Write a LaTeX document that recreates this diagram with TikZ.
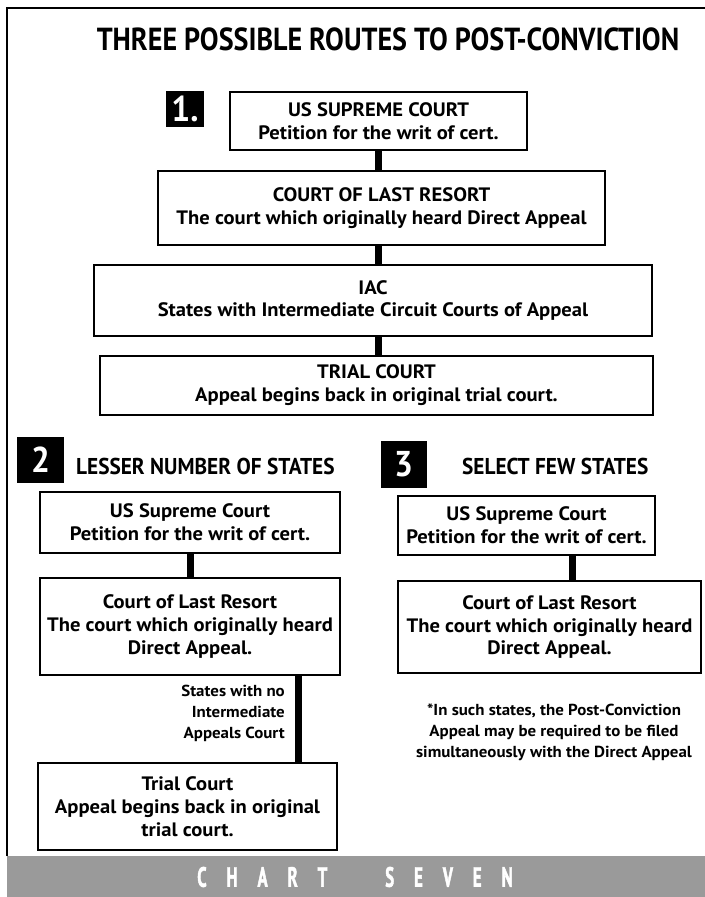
\documentclass[tikz,border=0pt]{standalone}
\usepackage{fontspec}
\setmainfont{PT Sans}[FakeStretch=1.06]
\newfontfamily\titlefont{PT Sans}[FakeStretch=0.88]
\newfontfamily\headfont{PT Sans}[FakeStretch=0.93]
\newfontfamily\chartfont{PT Sans}[FakeStretch=0.6, FakeBold=1.6]
\begin{document}
\begin{tikzpicture}[x=1bp,y=-1bp,
  box/.style={draw, line width=1.6bp, align=center, inner sep=0pt,
    font=\bfseries\fontsize{19.5}{23}\selectfont},
  conn/.style={line width=7bp},
  numbox/.style={fill=black, text=white, inner sep=0pt,
    font=\headfont\bfseries\fontsize{36}{36}\selectfont},
  head/.style={anchor=base west, inner sep=0pt, font=\headfont\bfseries\fontsize{23}{26}\selectfont},
  small/.style={inner sep=0pt, font=\bfseries\fontsize{16}{21}\selectfont},
]
\useasboundingbox (0,0) rectangle (705,897);
% frame
\draw[line width=2bp] (7,856) -- (7,8) -- (705,8);
\fill[fill={rgb,255:red,154;green,154;blue,154}] (7,856) rectangle (705,897);
\node[text=white, font=\chartfont\bfseries\fontsize{28}{28}\selectfont, inner sep=0pt] (chart) at (355,877)
  {C\hspace{20bp}H\hspace{20bp}A\hspace{20bp}R\hspace{20bp}T\hspace{58bp}S\hspace{20bp}E\hspace{20bp}V\hspace{20bp}E\hspace{20bp}N};

% title
\node[inner sep=0pt, font=\titlefont\bfseries\fontsize{32}{36}\selectfont] (title) at (388,39)
  {THREE POSSIBLE ROUTES TO POST-CONVICTION};

% route 1
\node[numbox, minimum width=38bp, minimum height=36bp] (n1) at (185,109) {1.};
\node[box, minimum width=297bp, minimum height=58bp] (a1) at (378.5,121)
  {US SUPREME COURT\\Petition for the writ of cert.};
\node[box, minimum width=447bp, minimum height=74bp] (a2) at (381.5,208)
  {COURT OF LAST RESORT\\The court which originally heard Direct Appeal};
\node[box, minimum width=558bp, minimum height=71bp] (a3) at (373,300.5)
  {IAC\\States with Intermediate Circuit Courts of Appeal};
\node[box, minimum width=553bp, minimum height=59bp] (a4) at (376.5,385.5)
  {TRIAL COURT\\Appeal begins back in original trial court.};
\draw[conn] (a1.south) -- (a1.south |- a2.north);
\draw[conn] (a1.south |- a2.south) -- (a1.south |- a3.north);
\draw[conn] (a1.south |- a3.south) -- (a1.south |- a4.north);

% route 2
\node[numbox, minimum width=47bp, minimum height=46bp] (n2) at (40.5,460) {2};
\node[head] (h2) at (76,474) {LESSER NUMBER OF STATES};
\node[box, minimum width=300bp, minimum height=61bp] (b1) at (190,522.5)
  {US Supreme Court\\Petition for the writ of cert.};
\node[box, minimum width=300bp, minimum height=97bp] (b2) at (190,626.5)
  {Court of Last Resort\\The court which originally heard\\Direct Appeal.};
\node[box, minimum width=299bp, minimum height=87bp] (b3) at (187.5,806.5)
  {Trial Court\\Appeal begins back in original\\trial court.};
\draw[conn] (b1.south) -- (b1.south |- b2.north);
\coordinate (b2r) at (298,675);
\draw[conn] (b2.south -| b2r) -- (b2r |- b3.north);
\node[small, align=right, anchor=north east] (lab) at (285,685)
  {States with no\\Intermediate\\Appeals Court};

% route 3
\node[numbox, minimum width=46bp, minimum height=47bp] (n3) at (403.5,464.5) {3};
\node[head] (h3) at (462,474) {SELECT FEW STATES};
\node[box, minimum width=257bp, minimum height=59bp] (c1) at (526.5,525.5)
  {US Supreme Court\\Petition for the writ of cert.};
\node[box, minimum width=303bp, minimum height=92bp] (c2) at (549.5,627)
  {Court of Last Resort\\The court which originally heard\\Direct Appeal.};
\coordinate (c1c) at (572.5,555);
\draw[conn] (c1.south -| c1c) -- (c1c |- c2.north);
\node[small, align=center, anchor=north] (note) at (554,704)
  {*In such states, the Post-Conviction\\Appeal may be required to be filed\\simultaneously with the Direct Appeal};
\end{tikzpicture}
\end{document}
